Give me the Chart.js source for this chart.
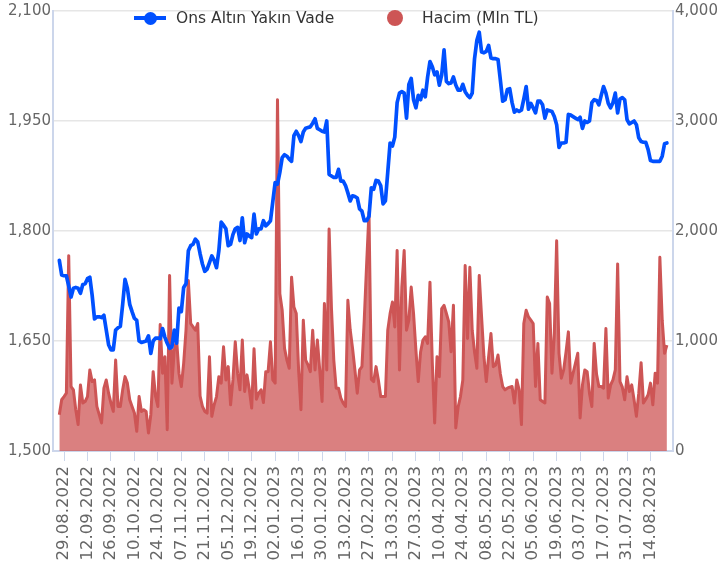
<!DOCTYPE html>
<html>
<head>
<meta charset="utf-8">
<title>Ons Altın Yakın Vade / Hacim</title>
<script src="https://cdn.jsdelivr.net/npm/chart.js@4.4.1/dist/chart.umd.min.js"></script>
<style>
  html, body { margin: 0; padding: 0; background: #fff; }
  #wrap { position: relative; width: 719px; height: 574px; }
  #legend { position: absolute; left: 0; top: 0; width: 719px; height: 36px; pointer-events: none;
            font: 15.5px "DejaVu Sans", sans-serif; color: #333; }
  .item { position: absolute; top: 8px; height: 20px; display: flex; align-items: center; white-space: nowrap; }
  #leg-0 { left: 134px; }
  #leg-1 { left: 387px; }
  .sym { position: relative; height: 20px; }
  .sym .ln { position: absolute; left: 0; top: 8px; width: 32px; height: 4px; }
  .sym .dot { position: absolute; border-radius: 50%; }
</style>
</head>
<body>
<div id="wrap">
  <canvas id="chart"></canvas>
  <div id="legend"></div>
</div>
<script>
// Ons altın (USD) ve hacim (Mln TL), işlem günleri 25.08.2022 - 23.08.2023
const startDay = '2022-08-25';
const tickLabels = ['29.08.2022', '12.09.2022', '26.09.2022', '10.10.2022', '24.10.2022', '07.11.2022',
  '21.11.2022', '05.12.2022', '19.12.2022', '02.01.2023', '16.01.2023', '30.01.2023', '13.02.2023',
  '27.02.2023', '13.03.2023', '27.03.2023', '10.04.2023', '24.04.2023', '08.05.2023', '22.05.2023',
  '05.06.2023', '19.06.2023', '03.07.2023', '17.07.2023', '31.07.2023', '14.08.2023'];

const goldPrice = [
  1760, 1740, 1739, 1739, 1725, 1710, 1722, 1723, 1722, 1715,
  1727, 1728, 1735, 1737, 1712, 1680, 1683, 1683, 1682, 1685,
  1665, 1645, 1638, 1638, 1665, 1668, 1670, 1700, 1734, 1722,
  1700, 1690, 1681, 1678, 1650, 1648, 1649, 1650, 1657, 1633,
  1650, 1654, 1654, 1653, 1667, 1655, 1647, 1640, 1642, 1665,
  1647, 1695, 1690, 1723, 1728, 1773, 1780, 1782, 1789, 1785,
  1769, 1755, 1745, 1748, 1757, 1766, 1760, 1750, 1773, 1812,
  1808, 1803, 1780, 1782, 1795, 1803, 1805, 1787, 1818, 1784,
  1796, 1793, 1791, 1823, 1796, 1803, 1803, 1814, 1807, 1810,
  1814, 1840, 1866, 1864, 1880, 1900, 1904, 1902, 1898, 1895,
  1930, 1936, 1930, 1922, 1935, 1940, 1941, 1942, 1947, 1953,
  1940, 1938, 1936, 1935, 1950, 1877, 1875, 1873, 1873, 1884,
  1868, 1868, 1862, 1852, 1841, 1848, 1847, 1845, 1830, 1827,
  1814, 1814, 1820, 1859, 1857, 1869, 1868, 1862, 1837, 1841,
  1880, 1920, 1916, 1928, 1975, 1988, 1990, 1988, 1954, 2000,
  2008, 1979, 1968, 1985, 1979, 1992, 1983, 2010, 2031, 2024,
  2013, 2017, 1999, 2013, 2047, 2004, 2001, 2002, 2010, 1999,
  1992, 1992, 2000, 1990, 1985, 1982, 1988, 2035, 2060, 2071,
  2044, 2043, 2045, 2053, 2036, 2035, 2035, 2034, 2006, 1977,
  1979, 1993, 1994, 1975, 1962, 1965, 1963, 1965, 1980, 1997,
  1966, 1974, 1968, 1961, 1977, 1977, 1972, 1954, 1965, 1964,
  1963, 1956, 1945, 1914, 1920, 1920, 1921, 1959, 1958, 1956,
  1954, 1952, 1955, 1940, 1950, 1948, 1950, 1975, 1979, 1978,
  1972, 1985, 1997, 1988, 1974, 1968, 1975, 1988, 1961, 1980,
  1982, 1979, 1952, 1946, 1948, 1950, 1945, 1927, 1922, 1921,
  1921, 1911, 1896, 1895, 1895, 1895, 1895, 1902, 1919, 1920
];

const volume = [
  330, 466, 495, 526, 1776, 586, 556, 375, 240, 601,
  436, 450, 495, 737, 631, 646, 405, 330, 255, 571,
  646, 526, 436, 360, 827, 405, 405, 556, 676, 617,
  466, 405, 345, 179, 495, 360, 375, 360, 164, 330,
  721, 500, 405, 1150, 707, 857, 194, 1596, 617, 918,
  1008, 707, 586, 797, 1100, 1550, 1159, 1128, 1098, 1159,
  500, 405, 360, 345, 857, 315, 420, 495, 676, 617,
  947, 646, 767, 420, 646, 993, 707, 556, 1008, 541,
  692, 556, 390, 930, 470, 526, 556, 440, 721, 721,
  993, 646, 617, 3193, 1430, 1279, 933, 827, 752, 1580,
  1309, 1249, 737, 375, 1189, 827, 782, 721, 1098, 737,
  1008, 737, 450, 1340, 737, 2018, 1300, 827, 571, 571,
  481, 436, 405, 1370, 1100, 933, 737, 526, 737, 767,
  1200, 1700, 2170, 650, 631, 767, 646, 495, 495, 495,
  1098, 1249, 1354, 1128, 1822, 737, 1490, 1822, 1098, 1189,
  1490, 1249, 918, 631, 900, 1008, 1038, 978, 1535, 800,
  255, 857, 676, 1295, 1324, 1250, 1173, 902, 1324, 210,
  400, 495, 646, 1686, 1023, 1671, 1098, 900, 752, 1596,
  1219, 857, 631, 857, 1068, 767, 782, 872, 700, 586,
  556, 571, 580, 586, 436, 646, 556, 240, 1159, 1279,
  1219, 1190, 1159, 586, 978, 466, 450, 436, 1399, 1340,
  707, 1068, 1912, 888, 662, 737, 900, 1083, 617, 707,
  797, 888, 300, 600, 737, 721, 526, 405, 978, 700,
  586, 586, 571, 1114, 481, 600, 646, 737, 1701, 631,
  580, 466, 676, 541, 601, 466, 315, 526, 803, 436,
  470, 511, 617, 420, 707, 617, 1761, 1189, 888, 963
];

// işlem günleri (hafta içi)
function tradingDays(from, count) {
  const out = [];
  const d = new Date(from + 'T12:00:00');
  while (out.length < count) {
    const wd = d.getDay();
    if (wd !== 0 && wd !== 6) {
      out.push(String(d.getDate()).padStart(2, '0') + '.' + String(d.getMonth() + 1).padStart(2, '0') + '.' + d.getFullYear());
    }
    d.setDate(d.getDate() + 1);
  }
  return out;
}

const dates = tradingDays(startDay, goldPrice.length);
const tickIdx = tickLabels.map((t) => dates.indexOf(t)).filter((i) => i >= 0);

const FONT = '"DejaVu Sans", sans-serif';
const AXIS_BLUE = '#ccd6eb';
const fmt = (v) => Number(v).toLocaleString('en-US');

const chart = new Chart(document.getElementById('chart'), {
  type: 'line',
  data: {
    datasets: [
      {
        label: 'Ons Altın Yakın Vade',
        data: goldPrice.map((v, i) => ({ x: i, y: v })),
        yAxisID: 'y',
        borderColor: '#0050ff',
        backgroundColor: '#0050ff',
        borderWidth: 3.7,
        borderJoinStyle: 'round',
        borderCapStyle: 'round',
        pointRadius: 0,
        tension: 0,
        fill: false,
      },
      {
        label: 'Hacim (Mln TL)',
        data: volume.map((v, i) => ({ x: i, y: v })),
        yAxisID: 'y2',
        borderColor: '#cd5555',
        backgroundColor: 'rgba(205, 85, 85, 0.75)',
        borderWidth: 3,
        borderJoinStyle: 'round',
        pointRadius: 0,
        tension: 0,
        fill: 'origin',
      },
    ],
  },
  options: {
    responsive: true,
    maintainAspectRatio: false,
    animation: false,
    layout: { padding: { top: 9, left: 0, right: 0, bottom: 0 } },
    plugins: {
      legend: { display: false },
      tooltip: { mode: 'index', intersect: false },
    },
    scales: {
      x: {
        type: 'linear',
        min: -2.7,
        max: 261.6,
        afterBuildTicks: (s) => { s.ticks = tickIdx.map((v) => ({ value: v })); },
        afterFit: (s) => { s.height = 123; },
        ticks: {
          autoSkip: false,
          minRotation: 90,
          maxRotation: 90,
          padding: 5,
          color: '#666',
          font: { family: FONT, size: 16.5 },
          callback: (v) => dates[v],
        },
        grid: { drawOnChartArea: false, color: AXIS_BLUE, tickLength: 10, lineWidth: 1 },
        border: { color: AXIS_BLUE, width: 2 },
      },
      y: {
        position: 'left',
        min: 1500,
        max: 2100,
        afterFit: (s) => { s.width = 53; },
        ticks: { stepSize: 150, padding: 2, color: '#666', font: { family: FONT, size: 15 }, callback: fmt },
        grid: { color: '#e6e6e6', lineWidth: 1.5, drawTicks: false },
        border: { color: AXIS_BLUE, width: 2 },
      },
      y2: {
        position: 'right',
        min: 0,
        max: 4000,
        afterFit: (s) => { s.width = 46; },
        ticks: { stepSize: 1000, padding: 2, color: '#666', font: { family: FONT, size: 15 }, callback: fmt },
        grid: { drawOnChartArea: false, drawTicks: false },
        border: { color: AXIS_BLUE, width: 2 },
      },
    },
  },
});

// legend over the plot, like the original
function buildLegend(chart) {
  const box = document.getElementById('legend');
  chart.data.datasets.forEach((ds, i) => {
    const item = document.createElement('div');
    item.className = 'item';
    item.id = 'leg-' + i;
    const sym = document.createElement('span');
    sym.className = 'sym';
    const dot = document.createElement('span');
    dot.className = 'dot';
    dot.style.background = ds.borderColor;
    if (ds.fill === false) {
      sym.style.width = '42px';
      const ln = document.createElement('span');
      ln.className = 'ln';
      ln.style.background = ds.borderColor;
      sym.appendChild(ln);
      Object.assign(dot.style, { left: '9.5px', top: '3.5px', width: '13px', height: '13px' });
    } else {
      sym.style.width = '35px';
      Object.assign(dot.style, { left: '0px', top: '2px', width: '16px', height: '16px' });
    }
    sym.appendChild(dot);
    const txt = document.createElement('span');
    txt.textContent = ds.label;
    item.appendChild(sym);
    item.appendChild(txt);
    box.appendChild(item);
  });
}
buildLegend(chart);
</script>
</body>
</html>
